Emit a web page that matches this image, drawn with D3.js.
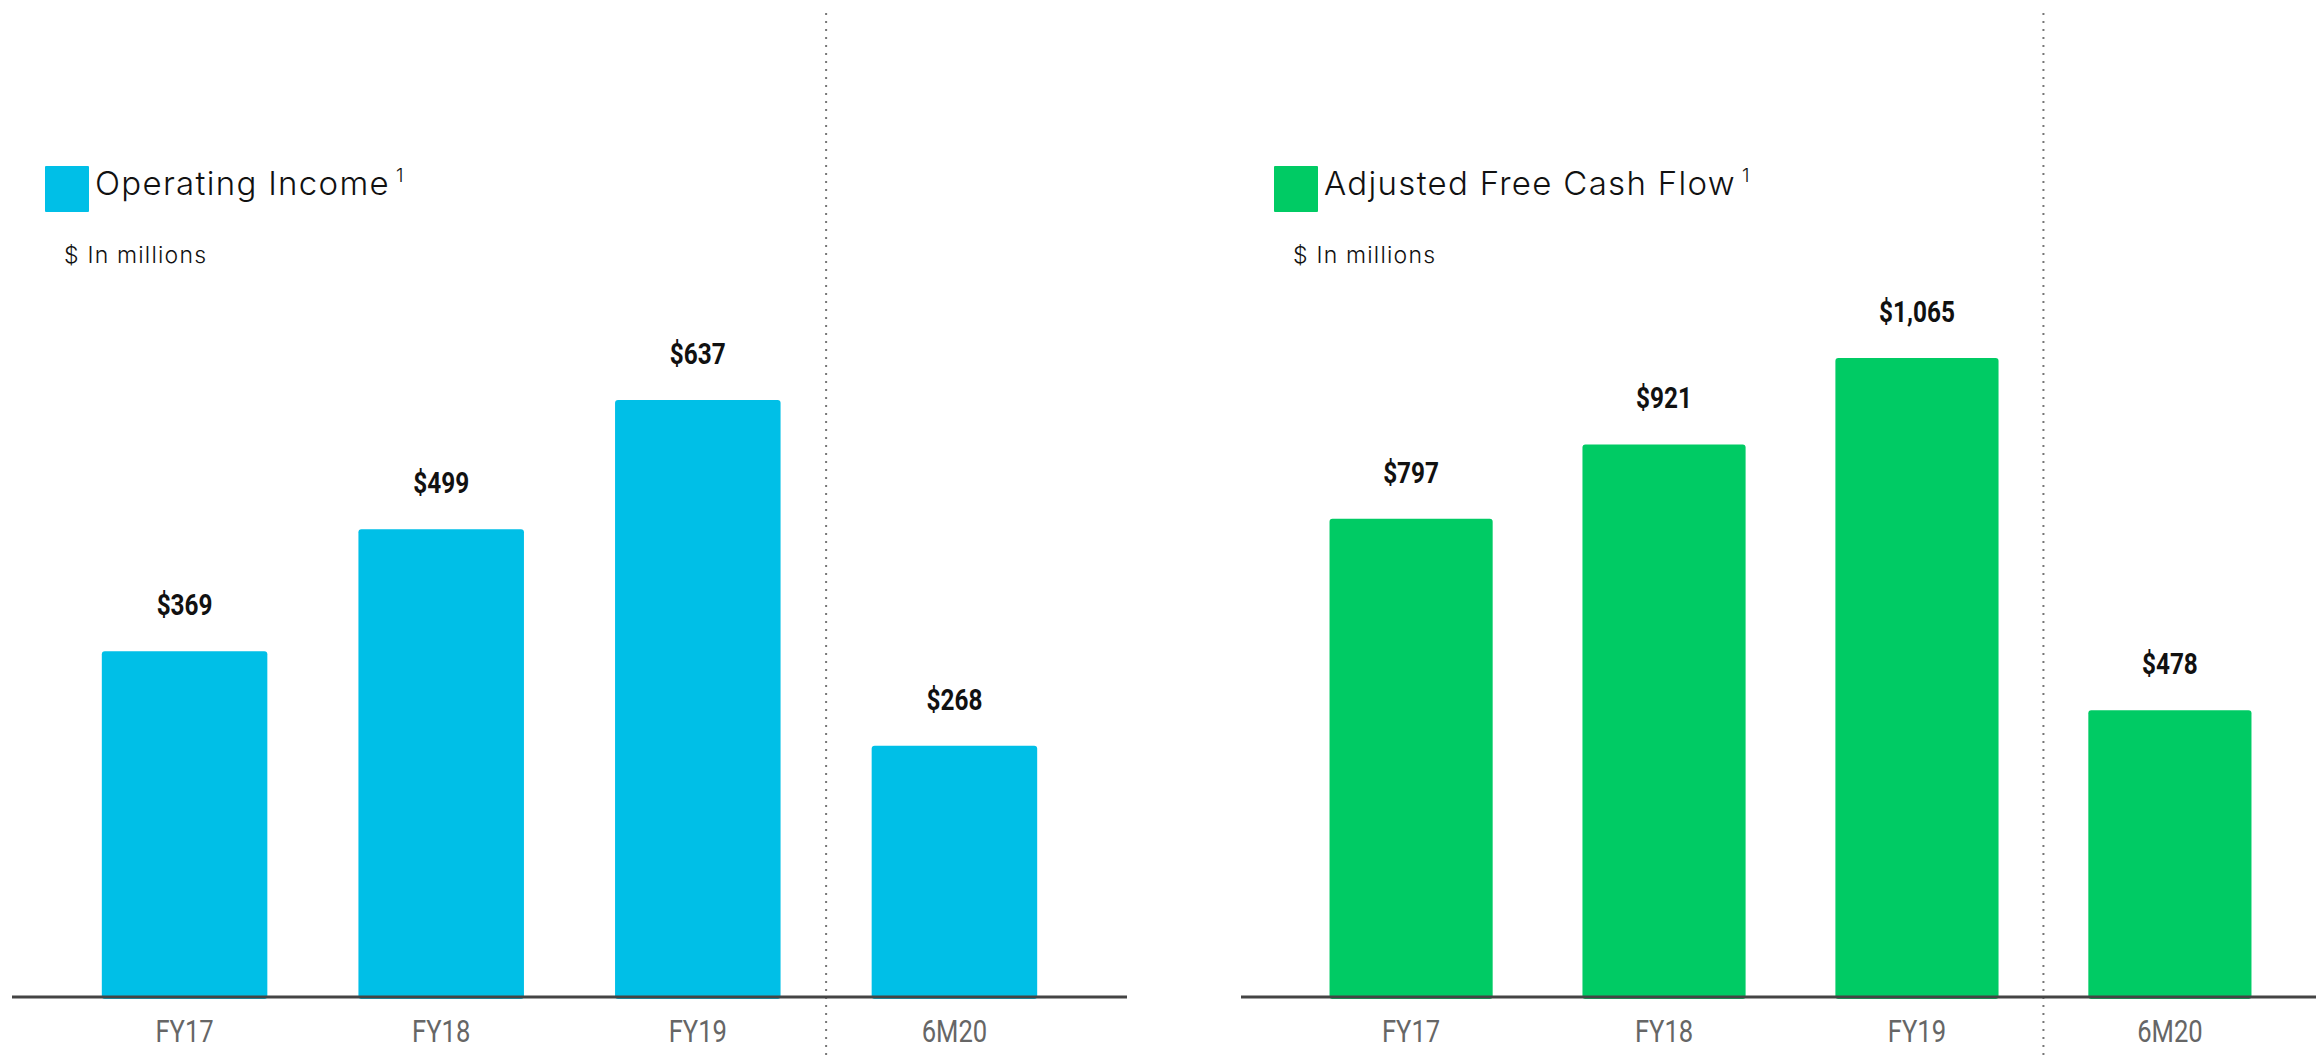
<!DOCTYPE html>
<html>
<head>
<meta charset="utf-8">
<script src="https://cdn.jsdelivr.net/npm/d3@7"></script>
<style>
  html, body { margin: 0; padding: 0; background: #fff; }
  svg { display: block; }
</style>
</head>
<body>
<div id="chart"></div>
<script>
const categories = ['FY17', 'FY18', 'FY19', '6M20']
const operatingIncome = [369, 499, 637, 268]
const adjustedFreeCashFlow = [797, 921, 1065, 478]
const valueLabelsLeft = ['$369', '$499', '$637', '$268']
const valueLabelsRight = ['$797', '$921', '$1,065', '$478']

const widthD3 = 2316
const heightD3 = 1056
const baseY = 997

const svg = d3.select('#chart').append('svg')
    .attr('width', widthD3)
    .attr('height', heightD3)

const panels = [
    {
        title: 'Operating Income',
        values: operatingIncome,
        labels: valueLabelsLeft,
        color: '#00BFE7',
        range: [12, 1127],
        domainMax: 700,
        yTop: 341
    },
    {
        title: 'Adjusted Free Cash Flow',
        values: adjustedFreeCashFlow,
        labels: valueLabelsRight,
        color: '#00CB64',
        range: [1241, 2340],
        domainMax: 1100,
        yTop: 337
    }
]

panels.forEach(p => drawPanel(p))

function drawPanel(p) {
    const g = svg.append('g')

    const xScale = d3.scaleBand()
        .domain(categories)
        .range(p.range)
        .paddingInner(0.355)
        .paddingOuter(0.35)

    const yScale = d3.scaleLinear()
        .domain([0, p.domainMax])
        .range([baseY, p.yTop])

    // dotted separator between full years and 6M20
    const sepX = xScale('FY19') + xScale.bandwidth() + (xScale.step() - xScale.bandwidth()) / 2
    g.append('line')
        .attr('x1', sepX).attr('x2', sepX)
        .attr('y1', 13).attr('y2', heightD3)
        .attr('stroke', '#777')
        .attr('stroke-width', 2)
        .attr('stroke-dasharray', '2,6')

    // bars
    g.selectAll('rect.bar')
        .data(p.values)
        .enter()
        .append('rect')
        .attr('class', 'bar')
        .attr('x', (d, i) => xScale(categories[i]))
        .attr('y', d => yScale(d))
        .attr('width', xScale.bandwidth())
        .attr('height', d => baseY - yScale(d) + 2)
        .attr('rx', 3)
        .attr('fill', p.color)

    // value labels
    g.selectAll('text.value')
        .data(p.values)
        .enter()
        .append('text')
        .attr('class', 'value')
        .attr('transform', (d, i) => `translate(${xScale(categories[i]) + xScale.bandwidth() / 2}, ${yScale(d) - 36}) scale(0.84, 1)`)
        .attr('text-anchor', 'middle')
        .attr('font-family', 'Roboto, sans-serif')
        .attr('font-weight', 700)
        .attr('font-size', 29)
        .attr('fill', '#111')
        .text((d, i) => p.labels[i])

    // x axis
    const xAxis = d3.axisBottom(xScale).tickSize(0).tickPadding(0)
    const axisG = g.append('g')
        .attr('transform', `translate(0, ${baseY})`)
        .call(xAxis)
    axisG.select('.domain')
        .attr('stroke', '#444')
        .attr('stroke-width', 3)
        .attr('d', `M${p.range[0]},0H${p.range[1]}`)
    axisG.selectAll('.tick text')
        .attr('y', 0)
        .attr('dy', 0)
        .attr('transform', 'translate(0, 45) scale(0.8, 1)')
        .attr('font-family', 'Roboto, sans-serif')
        .attr('font-size', 32)
        .attr('fill', '#666')

    // legend square + title
    const lx = p.range[0] + 33
    g.append('rect')
        .attr('x', lx).attr('y', 166)
        .attr('width', 44).attr('height', 46)
        .attr('rx', 1)
        .attr('fill', p.color)

    const title = g.append('text')
        .attr('x', lx + 50)
        .attr('y', 195)
        .attr('font-family', 'Inter, "Open Sans", sans-serif')
        .attr('font-weight', 300)
        .attr('font-size', 33)
        .attr('letter-spacing', 1.3)
        .attr('fill', '#111')
        .text(p.title)
    const tw = title.node().getComputedTextLength()
    g.append('text')
        .attr('x', lx + 50 + tw + 6)
        .attr('y', 182)
        .attr('font-family', 'Inter, "Open Sans", sans-serif')
        .attr('font-weight', 300)
        .attr('font-size', 19)
        .attr('fill', '#111')
        .text('1')

    g.append('text')
        .attr('x', p.range[0] + 52)
        .attr('y', 263)
        .attr('font-family', 'Inter, "Open Sans", sans-serif')
        .attr('font-weight', 300)
        .attr('font-size', 23)
        .attr('letter-spacing', 1.2)
        .attr('fill', '#111')
        .text('$ In millions')
}
</script>
</body>
</html>
